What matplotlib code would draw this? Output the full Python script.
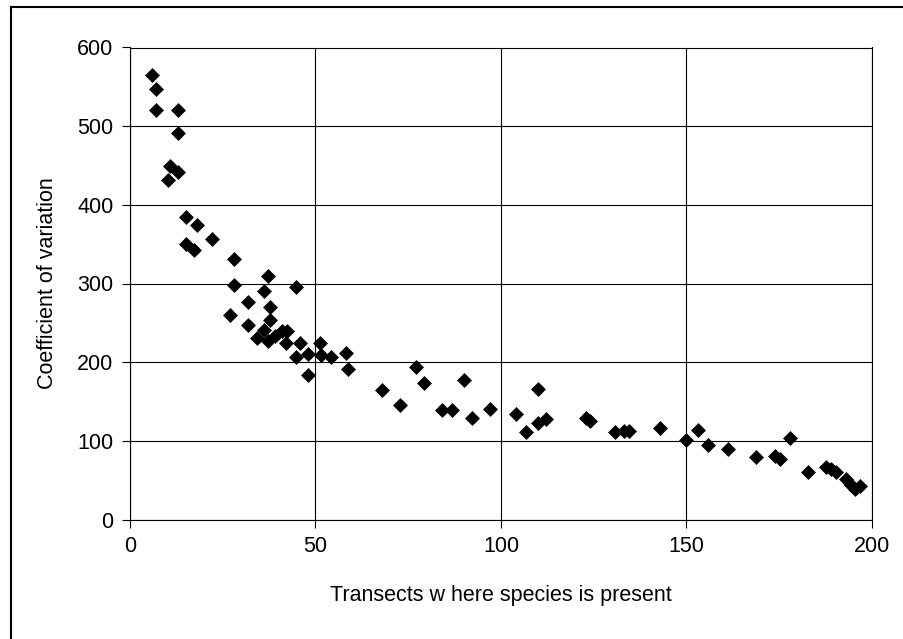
import matplotlib
matplotlib.use("Agg")
import matplotlib.pyplot as plt
from matplotlib.lines import Line2D

plt.rcParams["font.family"] = ["Liberation Sans", "DejaVu Sans"]

# transects where species is present
transects = [
    6.0, 7.0, 7.0, 13.0, 13.0, 10.8, 13.0, 10.3, 15.1, 18.0, 15.1, 17.2, 22.0,
    28.0, 28.0, 37.3, 44.7, 36.1, 31.9, 37.7, 26.9, 31.9, 37.7, 36.1, 34.1,
    37.3, 39.1, 40.9, 42.2, 42.0, 45.8, 51.2, 44.7, 48.0, 51.6, 54.1, 58.2,
    58.8, 48.0, 68.0, 72.7, 77.0, 79.2, 84.0, 86.9, 90.1, 92.2, 97.0, 104.0,
    106.7, 110.0, 110.0, 112.2, 122.8, 124.1, 130.8, 133.1, 134.4, 142.8,
    149.8, 153.1, 155.8, 161.2, 168.8, 173.8, 175.1, 177.8, 182.7, 187.7,
    189.0, 190.4, 193.1, 194.4, 195.3, 196.7,
]
# coefficient of variation
cv = [
    565, 547, 521, 521, 491, 449, 442, 431, 385, 374, 350, 342, 356,
    331, 298, 309, 296, 290, 277, 270, 260, 247, 253, 241, 231,
    227, 233, 239, 240, 224, 225, 225, 207, 211, 209, 207, 212,
    191, 184, 164, 146, 194, 174, 139, 139, 177, 129, 141, 134,
    111, 166, 123, 128, 129, 125, 111, 113, 113, 116,
    101, 114, 95, 90, 80, 81, 77, 104, 60, 67,
    64, 60, 52, 44, 39, 43,
]

fig = plt.figure(figsize=(9.04, 6.39), dpi=100)
ax = fig.add_axes([130 / 904, 1 - 519.5 / 639, 742 / 904, 472 / 639])

ax.scatter(transects, cv, marker="D", s=58, color="black", zorder=3,
           linewidths=0)

ax.set_xlim(0, 200)
ax.set_ylim(0, 600)
ax.set_xticks(range(0, 201, 50))
ax.set_yticks(range(0, 601, 100))
ax.grid(True, color="black", linewidth=0.8)
ax.set_axisbelow(True)
for s in ax.spines.values():
    s.set_color("black")
    s.set_linewidth(0.8)
ax.tick_params(direction="out", length=6, width=0.8, labelsize=15.5, pad=6)

ax.set_xlabel("Transects w here species is present", fontsize=15.5, labelpad=20)
ax.set_ylabel("Coefficient of variation", fontsize=15.5, labelpad=14)

# outer chart border (only left and top edges fall inside the image)
fig.add_artist(Line2D([11 / 904, 11 / 904], [0, 1 - 7 / 639],
                      transform=fig.transFigure, color="black", linewidth=1.5))
fig.add_artist(Line2D([11 / 904, 1], [1 - 7 / 639, 1 - 7 / 639],
                      transform=fig.transFigure, color="black", linewidth=1.5))

fig.savefig("out.png", dpi=100)
